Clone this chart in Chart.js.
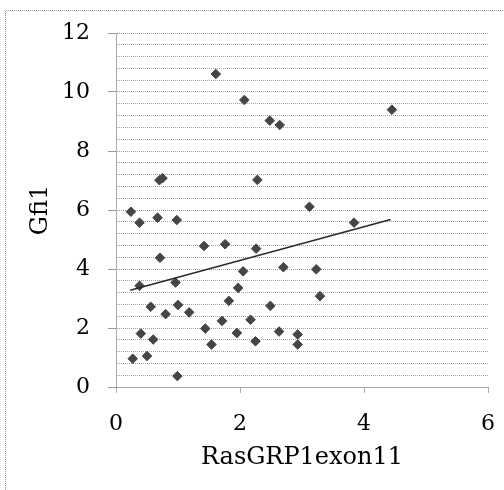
<!DOCTYPE html>
<html>
<head>
<meta charset="utf-8">
<script src="https://cdn.jsdelivr.net/npm/chart.js@4/dist/chart.umd.min.js"></script>
<style>
  html, body { margin: 0; padding: 0; background: #fff; }
  #wrap { width: 504px; height: 490px; position: relative; }
</style>
</head>
<body>
<div id="wrap"><canvas id="c" width="504" height="490"></canvas></div>
<script>
// Data
const xValues = [1.61, 2.07, 2.48, 2.64, 4.45, 0.70, 0.75, 2.28, 0.24, 0.38, 0.67, 0.98, 3.12, 3.84,
                 1.42, 1.76, 2.26, 0.71, 2.70, 3.23, 2.05, 0.38, 0.96, 1.97, 1.82, 3.29,
                 0.56, 1.00, 2.49, 0.80, 1.18, 1.71, 2.17, 1.44, 0.40, 1.95, 2.63, 2.93,
                 2.93, 0.60, 1.54, 2.25, 0.27, 0.50, 0.99];
const yValues = [10.61, 9.73, 9.03, 8.88, 9.40, 7.01, 7.08, 7.02, 5.94, 5.57, 5.74, 5.66, 6.11, 5.57,
                 4.78, 4.84, 4.69, 4.38, 4.06, 3.99, 3.92, 3.43, 3.54, 3.36, 2.92, 3.08,
                 2.72, 2.78, 2.75, 2.47, 2.53, 2.24, 2.28, 1.98, 1.81, 1.83, 1.88, 1.78,
                 1.44, 1.61, 1.44, 1.55, 0.96, 1.05, 0.37];
const trendX = [0.23, 4.43];
const trendY = [3.28, 5.68];
const xTickLabels = [0, 2, 4, 6];
const yTickLabels = [0, 2, 4, 6, 8, 10, 12];
const xTitle = 'RasGRP1exon11';
const yTitle = 'Gfi1';

const points = xValues.map((x, i) => ({ x: x, y: yValues[i] }));
const trend = trendX.map((x, i) => ({ x: x, y: trendY[i] }));

const isMajor = v => Math.abs(v / 2 - Math.round(v / 2)) < 1e-6;

const outerBorder = {
  id: 'outerBorder',
  beforeDraw(chart) {
    const ctx = chart.ctx;
    ctx.save();
    ctx.strokeStyle = '#9a9a9a';
    ctx.lineWidth = 1;
    ctx.setLineDash([1, 1]);
    ctx.beginPath();
    ctx.moveTo(5.5, 490);
    ctx.lineTo(5.5, 10.5);
    ctx.lineTo(504, 10.5);
    ctx.stroke();
    ctx.restore();
  }
};

const serif = "'DejaVu Serif', 'Liberation Serif', serif";

new Chart(document.getElementById('c'), {
  type: 'scatter',
  data: {
    datasets: [
      {
        type: 'line',
        data: trend,
        borderColor: '#2a2a2a',
        borderWidth: 1.5,
        pointRadius: 0,
        fill: false,
        tension: 0
      },
      {
        data: points,
        pointStyle: 'rectRot',
        pointRadius: 4.8,
        backgroundColor: '#454545',
        borderColor: '#454545',
        borderWidth: 1
      }
    ]
  },
  plugins: [outerBorder],
  options: {
    responsive: false,
    animation: false,
    devicePixelRatio: 1,
    layout: { padding: { top: 33, right: 16, bottom: 0, left: 0 } },
    plugins: { legend: { display: false }, tooltip: { enabled: false } },
    scales: {
      x: {
        type: 'linear',
        min: 0, max: 6,
        afterBuildTicks: s => { s.ticks = xTickLabels.map(v => ({ value: v })); },
        afterFit: s => { s.height = 103; s.paddingLeft = 0; s.paddingRight = 0; },
        ticks: {
          color: '#000',
          font: { family: serif, size: 22 },
          padding: 18,
          maxRotation: 0,
          autoSkip: false,
          callback: v => String(v)
        },
        grid: {
          drawOnChartArea: false,
          drawTicks: true,
          tickLength: 6,
          tickColor: '#aaa'
        },
        border: { display: true, color: '#aaa', width: 1 },
        title: {
          display: true,
          text: xTitle,
          color: '#000',
          font: { family: serif, size: 24 },
          padding: { top: 0, bottom: 18 }
        }
      },
      y: {
        type: 'linear',
        min: 0, max: 12,
        afterBuildTicks: s => {
          const t = [];
          for (let i = 0; i <= 30; i++) t.push({ value: Math.round(i * 0.4 * 10) / 10 });
          s.ticks = t;
        },
        afterFit: s => { s.width = 116; s.paddingTop = 0; s.paddingBottom = 0; },
        ticks: {
          color: '#000',
          font: { family: serif, size: 22 },
          padding: 18,
          autoSkip: false,
          callback: v => (yTickLabels.some(t => Math.abs(t - v) < 1e-6) ? String(Math.round(v)) : '')
        },
        grid: {
          color: '#a0a0a0',
          lineWidth: 1,
          tickLength: 8,
          tickColor: ctx => (ctx.tick && isMajor(ctx.tick.value)) ? '#9a9a9a' : 'rgba(0,0,0,0)'
        },
        border: { display: true, color: '#aaa', width: 1, dash: [1, 1] },
        title: {
          display: true,
          text: yTitle,
          color: '#000',
          font: { family: serif, size: 24 },
          padding: { top: 26, bottom: 0 }
        }
      }
    }
  }
});
</script>
</body>
</html>
